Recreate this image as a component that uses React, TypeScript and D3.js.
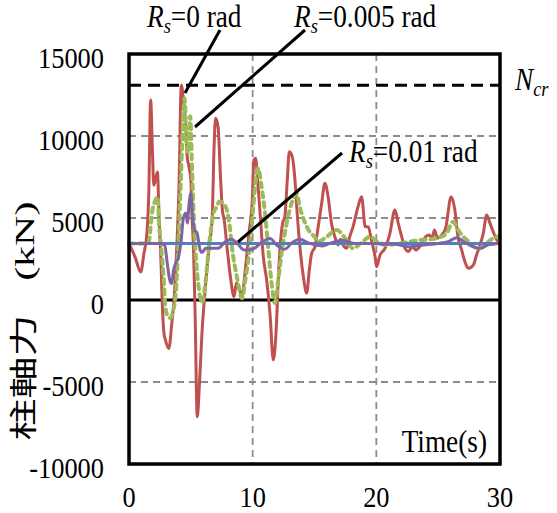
import React from "react";
import * as d3 from "d3";

const xTicks = [0, 10, 20, 30];
const yTicks = [-10000, -5000, 0, 5000, 10000, 15000];
const xGrid = [10, 20];
const yGrid = [-5000, 5000, 10000];
const NCR = 13100;
const BASE = 3450;

const redT = [0, 0.5, 0.95, 1.2, 1.45, 1.6, 1.75, 1.9, 2.0, 2.1, 2.3, 2.43, 2.6, 2.68, 2.83, 2.95, 3.23, 3.45, 3.64, 3.85, 4.04, 4.23, 4.4, 4.6, 4.71, 4.85, 5.0, 5.1, 5.22, 5.35, 5.52, 5.7, 5.9, 6.2, 6.45, 6.73, 6.88, 7.0, 7.2, 7.41, 7.55, 7.7, 7.95, 8.2, 8.49, 8.68, 8.9, 9.11, 9.43, 9.7, 9.97, 10.1, 10.24, 10.4, 10.6, 10.86, 11.13, 11.4, 11.67, 11.9, 12.07, 12.26, 12.42, 12.6, 12.8, 12.96, 13.2, 13.42, 13.6, 13.82, 14.1, 14.37, 14.58, 14.77, 15.04, 15.3, 15.58, 15.84, 16.1, 16.37, 16.65, 16.9, 17.1, 17.35, 17.6, 17.85, 18.12, 18.52, 18.81, 19.1, 19.35, 19.6, 19.9, 20.02, 20.3, 20.7, 21.1, 21.5, 21.77, 22.05, 22.32, 22.6, 22.9, 23.2, 23.6, 24.0, 24.27, 24.5, 24.7, 24.95, 25.25, 25.6, 26.05, 26.35, 26.6, 26.9, 27.16, 27.43, 27.84, 28.1, 28.38, 28.65, 28.92, 29.18, 29.5, 29.85, 30];
const redV = [3450, 2600, 1700, 2800, 4100, 6500, 12200, 9000, 7000, 7200, 7800, 5080, 2030, 0, -2030, -2440, -2950, -1500, 0, 3000, 6800, 13100, 12200, 10400, 8740, 8130, 7320, 5000, 3050, -1020, -7120, -5080, -2030, 1020, 3050, 5080, 9350, 11080, 10570, 7320, 5490, 4880, 3050, 1420, 200, 1020, 800, 200, 2030, 4070, 6100, 8540, 8640, 7320, 5290, 2640, 1220, -810, -3660, -1830, 1220, 3660, 4680, 5080, 7320, 9040, 8740, 7320, 5290, 3250, 1420, 410, 1830, 2850, 3250, 4470, 5900, 7120, 6300, 4680, 3860, 3350, 3700, 3300, 3150, 3860, 4470, 5690, 6300, 4470, 4470, 3660, 2640, 2030, 2740, 3150, 4070, 5490, 4680, 3860, 3150, 2950, 3250, 3050, 3350, 3860, 3960, 3750, 4270, 3760, 3950, 4370, 6300, 5490, 3860, 3050, 2340, 1930, 2130, 2740, 3350, 4070, 5180, 4700, 4070, 3560];

const greenT = [0, 1.5, 1.62, 1.75, 1.9, 2.1, 2.3, 2.45, 2.65, 2.8, 2.95, 3.15, 3.35, 3.55, 3.78, 4.0, 4.2, 4.35, 4.5, 4.65, 4.8, 4.95, 5.1, 5.3, 5.6, 5.9, 6.2, 6.5, 6.8, 7.1, 7.3, 7.8, 8.05, 8.4, 8.7, 9.15, 9.4, 9.8, 10.05, 10.25, 10.45, 10.7, 11.0, 11.25, 11.5, 11.8, 12.07, 12.34, 12.75, 13.15, 13.55, 13.8, 14.2, 14.6, 15.0, 15.3, 15.9, 16.8, 17.5, 18.1, 18.8, 19.5, 20.1, 20.8, 21.8, 22.7, 23.5, 24.3, 25.1, 25.7, 26.2, 26.7, 27.4, 28.2, 28.7, 29.3, 30];
const greenV = [3450, 3450, 3600, 4500, 5500, 6000, 6300, 4500, 2800, 1400, -500, -1000, -1100, -700, 400, 3500, 7500, 10500, 12300, 9500, 9000, 11200, 8000, 4000, 1000, -150, 1200, 3500, 5200, 5700, 6000, 5700, 5000, 2800, 1500, 100, 1200, 3450, 5690, 7320, 8030, 7000, 5290, 3250, 1220, -200, 1220, 2850, 4680, 5900, 6500, 5690, 4770, 4170, 3860, 3560, 3800, 4270, 3750, 3150, 3500, 3860, 3550, 3350, 3450, 3550, 3660, 3700, 3820, 4100, 4770, 4170, 3600, 3150, 3300, 3700, 3900];

const purpleT = [0, 2.6, 2.9, 3.1, 3.3, 3.45, 3.6, 3.8, 4.0, 4.2, 4.4, 4.6, 4.72, 4.85, 5.0, 5.15, 5.3, 5.5, 5.75, 5.9, 6.2, 7.2, 7.8, 8.3, 8.7, 9.3, 10.0, 10.8, 11.4, 12.0, 12.6, 13.2, 13.8, 14.6, 15.6, 16.4, 17.3, 18.3, 19.5, 20.5, 21.5, 22.6, 23.8, 25.0, 25.8, 26.5, 27.2, 27.8, 28.4, 29.0, 30];
const purpleV = [3450, 3450, 3300, 2200, 1200, 1000, 1800, 2300, 2600, 3500, 5000, 5300, 4700, 5800, 6500, 5000, 4270, 4100, 3050, 2900, 3150, 3150, 3560, 3700, 3500, 3050, 3100, 3560, 3750, 3300, 3100, 3500, 3700, 3450, 3300, 3500, 3650, 3450, 3450, 3400, 3400, 3250, 3350, 3450, 3550, 3800, 3500, 3250, 3150, 3350, 3450];

const blueT = [0, 30];
const blueV = [BASE, BASE];

const W = 557;
const H = 513;
const L = 129, R = 500, T = 54, B = 464;

const x = d3.scaleLinear().domain([0, 30]).range([L, R]);
const y = d3.scaleLinear().domain([-10000, 15000]).range([B, T]);

type Pt = [number, number];
const zip = (ts: number[], vs: number[]): Pt[] => ts.map((t, i) => [t, vs[i]]);
const line = d3.line<Pt>().x((d) => x(d[0])).y((d) => y(d[1])).curve(d3.curveMonotoneX);

const SERIF = "Liberation Serif";
const CJK = "Noto Sans CJK JP";
const SX = 0.88;
const FS = 20;
const kTick = 30 / FS;
const kText = 31 / FS;

function Ann({ px, py, lead, sub, rest }: { px: number; py: number; lead: string; sub: string; rest: string }) {
  return (
    <g transform={`translate(${px},${py}) scale(${SX * kText},${kText})`}>
      <text x={0} y={0} fontFamily={SERIF} fontSize={FS} fill="#000">
        <tspan fontStyle="italic">{lead}</tspan>
        <tspan fontStyle="italic" fontSize={13.5} dy={4}>{sub}</tspan>
        {rest ? <tspan dy={-4}>{rest}</tspan> : null}
      </text>
    </g>
  );
}

export default function App() {
  return (
    <svg width={W} height={H} style={{ position: "absolute", left: 0, top: 0, background: "#fff" }}>
      <rect x={0} y={0} width={W} height={H} fill="#fff" />
      {xGrid.map((g) => (
        <line key={"xg" + g} x1={x(g)} x2={x(g)} y1={T} y2={B} stroke="#8c8c8c" strokeWidth={1.8} strokeDasharray="7,5" />
      ))}
      {yGrid.map((g) => (
        <line key={"yg" + g} x1={L} x2={R} y1={y(g)} y2={y(g)} stroke="#8c8c8c" strokeWidth={1.8} strokeDasharray="7,5" />
      ))}
      <line x1={L} x2={R} y1={y(NCR)} y2={y(NCR)} stroke="#000" strokeWidth={3} strokeDasharray="12,7" />
      <line x1={L} x2={R} y1={y(0)} y2={y(0)} stroke="#000" strokeWidth={3} />
      <path d={line(zip(redT, redV)) || ""} fill="none" stroke="#C0504D" strokeWidth={3} strokeLinejoin="round" />
      <path d={line(zip(greenT, greenV)) || ""} fill="none" stroke="#9BBB59" strokeWidth={4} strokeDasharray="5,5" strokeLinecap="round" />
      <path d={line(zip(blueT, blueV)) || ""} fill="none" stroke="#4F81BD" strokeWidth={3} />
      <path d={line(zip(purpleT, purpleV)) || ""} fill="none" stroke="#8064A2" strokeWidth={3} strokeLinejoin="round" />
      <rect x={L} y={T} width={R - L} height={B - T} fill="none" stroke="#000" strokeWidth={3.5} />
      <line x1={220} y1={30} x2={185} y2={93} stroke="#000" strokeWidth={3} />
      <line x1={305} y1={30} x2={195} y2={127} stroke="#000" strokeWidth={3} />
      <line x1={342} y1={153} x2={238} y2={242} stroke="#000" strokeWidth={3} />
      {yTicks.map((v) => (
        <g key={"yt" + v} transform={`translate(104,${y(v) + 14}) scale(${SX * kTick},${kTick})`}>
          <text x={0} y={0} textAnchor="end" fontFamily={SERIF} fontSize={FS} fill="#000">{String(v)}</text>
        </g>
      ))}
      {xTicks.map((v) => (
        <g key={"xt" + v} transform={`translate(${x(v)},507) scale(${SX * kTick},${kTick})`}>
          <text x={0} y={0} textAnchor="middle" fontFamily={SERIF} fontSize={FS} fill="#000">{String(v)}</text>
        </g>
      ))}
      <g transform="translate(34,321) rotate(-90) scale(2.1,1.4)">
        <text x={0} y={0} textAnchor="middle" fontSize={FS} fill="#000">
          <tspan fontFamily={CJK}>柱軸力</tspan>
          <tspan fontFamily={SERIF} dx={16}>(kN)</tspan>
        </text>
      </g>
      <g transform={`translate(487,452) scale(${SX * kText},${kText})`}>
        <text x={0} y={0} textAnchor="end" fontFamily={SERIF} fontSize={FS} fill="#000">Time(s)</text>
      </g>
      <Ann px={147} py={27} lead="R" sub="s" rest="=0 rad" />
      <Ann px={294} py={27} lead="R" sub="s" rest="=0.005 rad" />
      <Ann px={349} py={162} lead="R" sub="s" rest="=0.01 rad" />
      <Ann px={515} py={90} lead="N" sub="cr" rest="" />
    </svg>
  );
}
